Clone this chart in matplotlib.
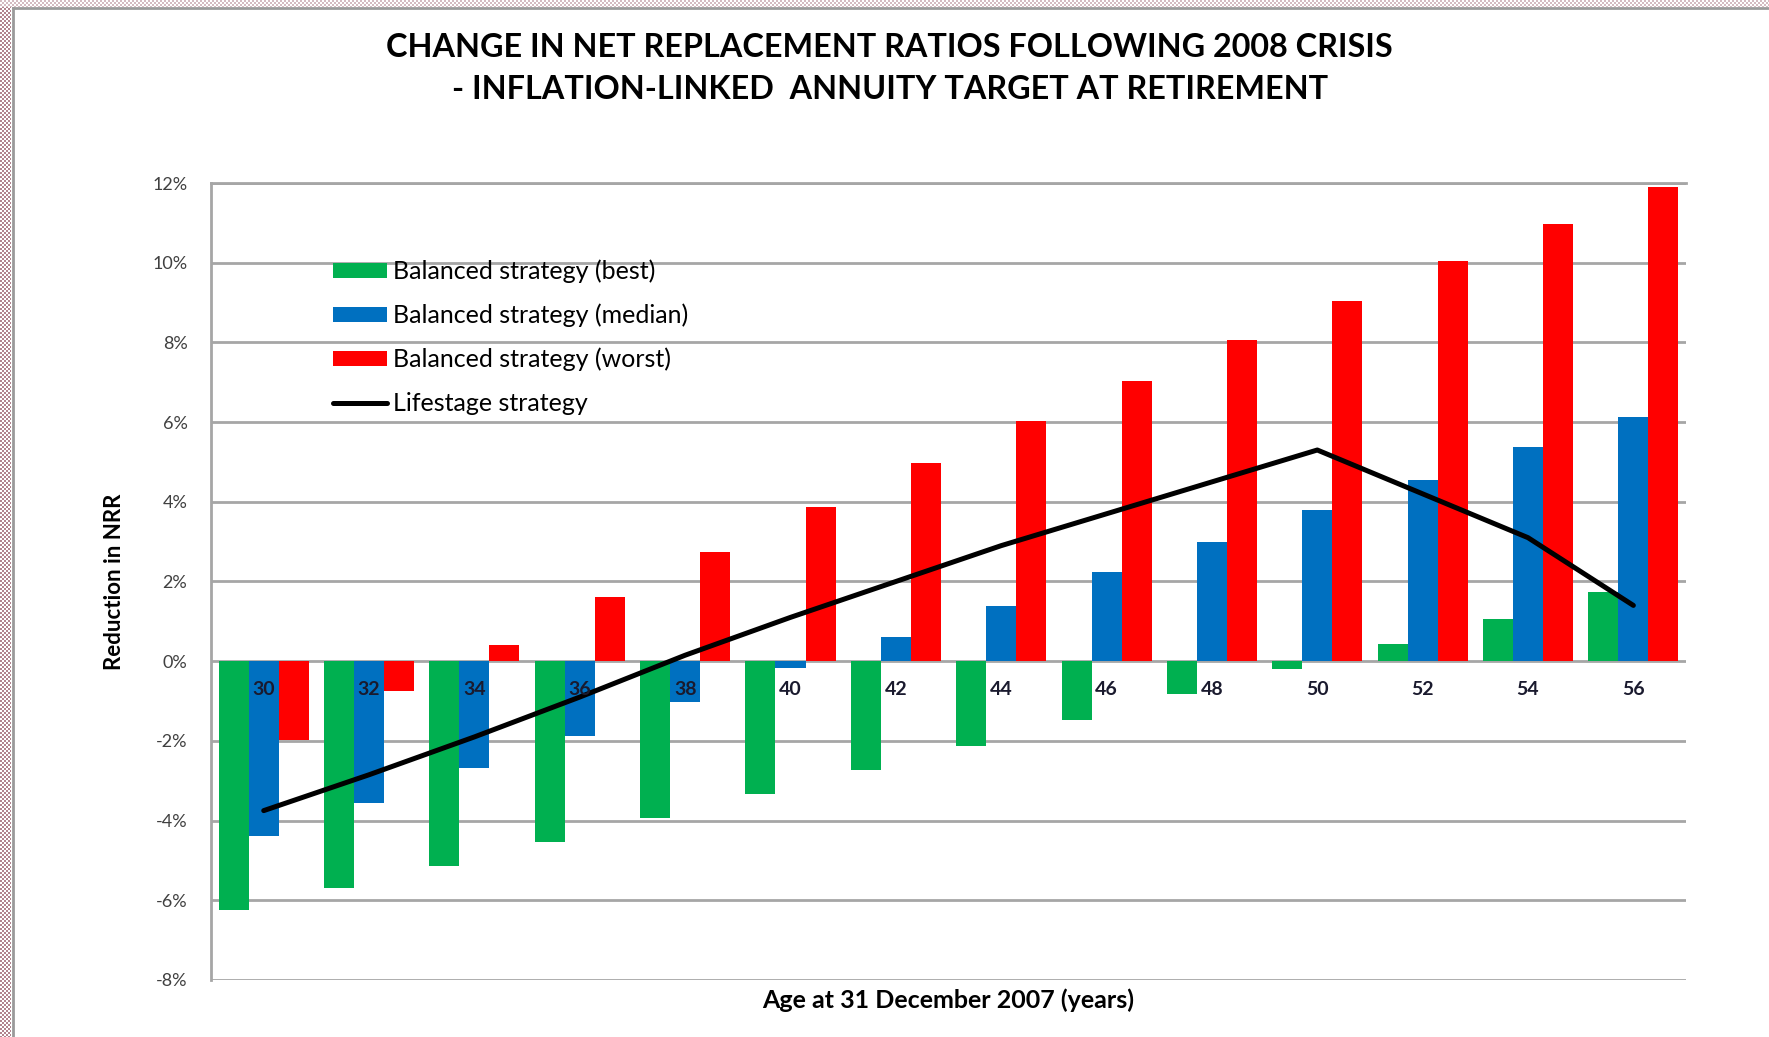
"""Change in net replacement ratios following the 2008 crisis (bar + line chart)."""

import matplotlib

matplotlib.use("Agg")
import matplotlib.pyplot as plt
import numpy as np
from matplotlib.lines import Line2D
from matplotlib.ticker import FuncFormatter

plt.rcParams["font.family"] = ["Lato", "DejaVu Sans"]

ages = [30, 32, 34, 36, 38, 40, 42, 44, 46, 48, 50, 52, 54, 56]
best = [-6.25, -5.70, -5.15, -4.55, -3.93, -3.34, -2.74, -2.12, -1.47, -0.82, -0.20, 0.42, 1.05, 1.73]
median = [-4.38, -3.56, -2.69, -1.87, -1.02, -0.17, 0.60, 1.39, 2.23, 3.00, 3.79, 4.55, 5.37, 6.14]
worst = [-1.98, -0.76, 0.40, 1.61, 2.74, 3.88, 4.98, 6.03, 7.04, 8.06, 9.05, 10.04, 10.98, 11.91]
lifestage = [-3.75, -2.85, -1.90, -0.90, 0.15, 1.10, 2.00, 2.90, 3.70, 4.50, 5.30, 4.20, 3.10, 1.40]

series_labels = [
    "Balanced strategy (best)",
    "Balanced strategy (median)",
    "Balanced strategy (worst)",
]
line_label = "Lifestage strategy"
colors = ["#00b050", "#0070c0", "#ff0000"]
grid_color = "#a6a6a6"

fig = plt.figure(figsize=(17.69, 10.37), dpi=100)
ax = fig.add_axes([0.1193, 0.0550, 0.8338, 0.7685])

x = np.arange(len(ages))
width = 0.285
handles = []
for offset, values, color, label in zip((-width, 0, width), (best, median, worst), colors, series_labels):
    handles.append(ax.bar(x + offset, values, width=width, color=color, label=label, zorder=2))
(line,) = ax.plot(x, lifestage, color="black", linewidth=3.6, label=line_label, zorder=4,
                  solid_capstyle="round")
handles.append(line)

ax.set_xlim(-0.5, len(ages) - 0.5)
ax.set_ylim(-8, 12)
ax.set_yticks(np.arange(-8, 13, 2))
ax.yaxis.set_major_formatter(FuncFormatter(lambda v, _: f"{v:.0f}%"))
ax.set_xticks([])
ax.tick_params(axis="y", length=0, pad=17, labelsize=13, labelcolor="#404040")
ax.grid(axis="y", color=grid_color, linewidth=2)
ax.set_axisbelow(True)

for side in ("right", "bottom"):
    ax.spines[side].set_visible(False)
for side in ("left", "top"):
    ax.spines[side].set_color(grid_color)
    ax.spines[side].set_linewidth(2)

# age labels sit just under the zero line, on top of the bars
for xi, age in zip(x, ages):
    ax.text(xi, -0.71, str(age), ha="center", va="center", fontsize=14,
            fontweight="bold", color="#1a1a2e", zorder=5)

ax.set_xlabel("Age at 31 December 2007 (years)", fontsize=18, fontweight="bold")
ax.xaxis.set_label_coords(0.5, -0.01)
ax.set_ylabel("Reduction in NRR", fontsize=16, fontweight="bold")
ax.yaxis.set_label_coords(-0.058, 0.5)

ax.legend(
    handles=handles,
    loc="upper left",
    bbox_to_anchor=(0.0827, 0.904),
    frameon=False,
    fontsize=18,
    handlelength=2.15,
    handleheight=0.55,
    handletextpad=0.25,
    labelspacing=0.82,
    borderpad=0,
    borderaxespad=0,
)

fig.text(0.503, 0.9545, "CHANGE IN NET REPLACEMENT RATIOS FOLLOWING 2008 CRISIS",
         ha="center", va="center", fontsize=23.3, fontweight="bold")
fig.text(0.503, 0.9133, "- INFLATION-LINKED  ANNUITY TARGET AT RETIREMENT",
         ha="center", va="center", fontsize=23.3, fontweight="bold")

# slide-style checkered frame on the left and top edges
pink = np.array([0.70, 0.52, 0.56])
yy, xx = np.mgrid[0:1037, 0:11]
left_strip = np.ones((1037, 11, 3))
left_strip[(yy // 2 + xx // 2) % 2 == 0] = pink
fig.figimage(left_strip, xo=0, yo=0, origin="upper", zorder=10)
yy, xx = np.mgrid[0:7, 0:1769]
top_strip = np.ones((7, 1769, 3))
top_strip[(yy // 2 + xx // 2) % 2 == 0] = pink + (1 - pink) * 0.45
fig.figimage(top_strip, xo=0, yo=1030, origin="upper", zorder=10)
fig.add_artist(Line2D([12.5 / 1769] * 2, [0, 1 - 7.5 / 1037], transform=fig.transFigure,
                      color="#9a9a9a", linewidth=2))
fig.add_artist(Line2D([12.5 / 1769, 1], [1 - 7.5 / 1037] * 2, transform=fig.transFigure,
                      color="#9a9a9a", linewidth=2))

fig.savefig("out.png", dpi=100, facecolor="white")
